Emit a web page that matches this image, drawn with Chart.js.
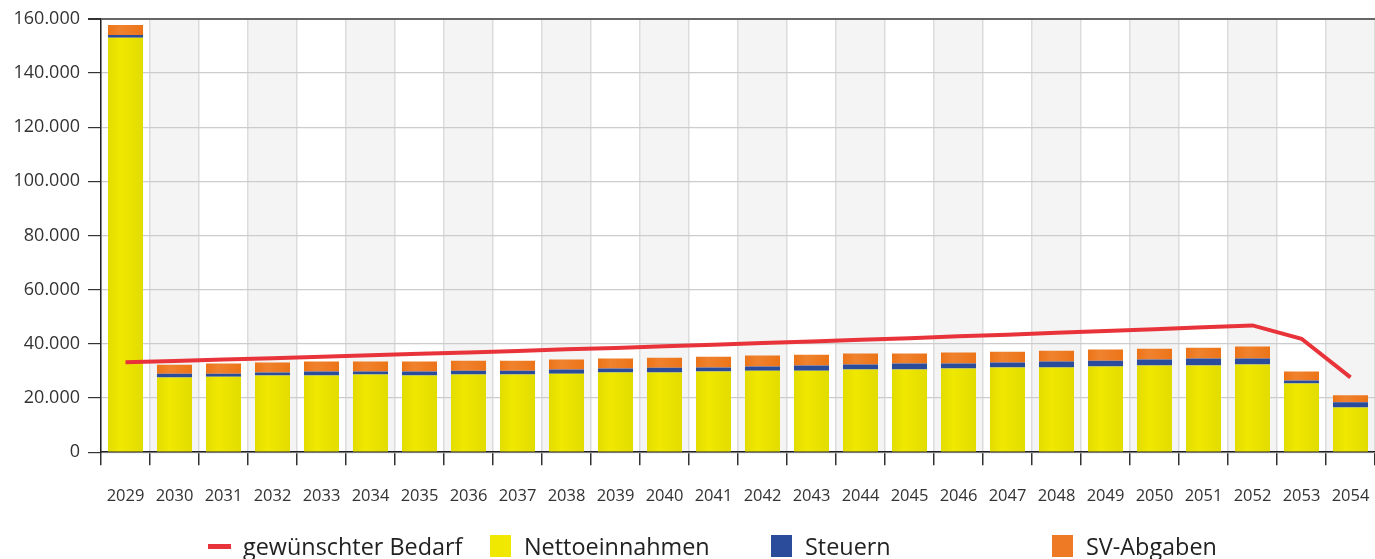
<!DOCTYPE html>
<html>
<head>
<meta charset="utf-8">
<script src="https://cdn.jsdelivr.net/npm/chart.js@4/dist/chart.umd.min.js"></script>
<style>
  html, body { margin:0; padding:0; background:#fff; }
  #wrap { position:relative; width:1375px; height:559px; }
  #c { position:absolute; left:0; top:0; }
  .lg { position:absolute; top:533px; height:26px; font-family:"Open Sans", sans-serif; font-size:23.4px; color:#222; line-height:26px; white-space:nowrap; }
  .sw { position:absolute; }
  .tx { position:absolute; top:0; }
</style>
</head>
<body>
<div id="wrap">
  <canvas id="c" width="1375" height="559"></canvas>
</div>
<script>
const years = ['2029','2030','2031','2032','2033','2034','2035','2036','2037','2038','2039','2040','2041','2042','2043','2044','2045','2046','2047','2048','2049','2050','2051','2052','2053','2054'];
const netto = [153.0,27.6,27.9,28.3,28.3,28.7,28.3,28.7,28.7,29.0,29.4,29.4,29.8,30.1,30.1,30.5,30.5,30.9,31.25,31.25,31.6,32.0,32.0,32.4,25.4,16.5].map(v=>v*1000);
const steuern = [1.0,1.4,1.1,1.1,1.5,1.1,1.5,1.4,1.4,1.5,1.5,1.8,1.45,1.5,1.9,1.9,2.2,1.8,1.85,2.2,2.2,2.2,2.6,2.2,1.1,1.9].map(v=>v*1000);
const sv = [3.7,3.3,3.7,3.7,3.7,3.7,3.7,3.7,3.7,3.7,3.7,3.7,4.0,4.1,4.0,4.0,3.7,4.1,4.0,4.0,4.1,4.0,4.0,4.4,3.3,2.6].map(v=>v*1000);
const bedarf = [33.2,33.7,34.2,34.7,35.2,35.8,36.3,36.8,37.4,38.0,38.5,39.1,39.7,40.3,40.9,41.5,42.1,42.8,43.4,44.1,44.7,45.4,46.1,46.8,41.9,27.6].map(v=>v*1000);
const yTicks = [0,20000,40000,60000,80000,100000,120000,140000,160000];
const legendItems = [
  {label:'gewünschter Bedarf', color:'#e8333a', kind:'line', x:208},
  {label:'Nettoeinnahmen', color:'#f0e800', kind:'box', x:490},
  {label:'Steuern', color:'#2b4c9b', kind:'box', x:771},
  {label:'SV-Abgaben', color:'#ef7a25', kind:'box', x:1052}
];

const BAR_PCT = 0.715;
function fmt(v){ return String(v).replace(/\B(?=(\d{3})+(?!\d))/g,'.'); }

function gradFill(edge, mid){
  return function(ctx){
    const chart = ctx.chart;
    if (!chart.chartArea || !chart.scales.x) return mid;
    const xs = chart.scales.x;
    const cx = xs.getPixelForValue(ctx.dataIndex);
    const cw = (xs.right - xs.left) / years.length;
    const w = cw * BAR_PCT;
    const g = chart.ctx.createLinearGradient(cx - w/2, 0, cx + w/2, 0);
    g.addColorStop(0, edge);
    g.addColorStop(0.35, mid);
    g.addColorStop(1, edge);
    return g;
  };
}

const bandPlugin = {
  id:'bands',
  beforeDraw(chart){
    const {ctx, chartArea} = chart;
    const xs = chart.scales.x;
    const cw = (xs.right - xs.left) / years.length;
    ctx.save();
    ctx.fillStyle = '#f4f4f4';
    for (let i=1;i<years.length;i+=2){
      ctx.fillRect(xs.left + i*cw, chartArea.top, cw, chartArea.bottom-chartArea.top);
    }
    ctx.restore();
  }
};

new Chart(document.getElementById('c'), {
  type:'bar',
  data:{
    labels: years,
    datasets:[
      {type:'line', label:'gewünschter Bedarf', data:bedarf, borderColor:'#e8333a', borderWidth:4, pointRadius:0, tension:0, fill:false, order:0, stack:'line'},
      {label:'Nettoeinnahmen', data:netto, backgroundColor:gradFill('#e2dc00','#f0e800'), order:1, stack:'s'},
      {label:'Steuern', data:steuern, backgroundColor:'#2b4c9b', order:1, stack:'s'},
      {label:'SV-Abgaben', data:sv, backgroundColor:gradFill('#ec7418','#f0822e'), order:1, stack:'s'}
    ]
  },
  options:{
    responsive:false,
    animation:false,
    layout:{ padding:{ top:7, right:0, bottom:32, left:0 } },
    plugins:{ legend:{display:false}, tooltip:{enabled:false} },
    datasets:{ bar:{ barPercentage:BAR_PCT, categoryPercentage:1 } },
    scales:{
      x:{
        stacked:true,
        offset:true,
        afterFit(scale){ scale.paddingLeft = 0; scale.paddingRight = 0; },
        grid:{ offset:true, color:'#dcdcdc', lineWidth:1.5, tickColor:'#333', tickLength:13, drawTicks:true },
        border:{ color:'#222', width:1.5 },
        ticks:{ font:{ family:'"Open Sans", sans-serif', size:16.5 }, color:'#333', padding:21, maxRotation:0, autoSkip:false }
      },
      y:{
        stacked:true,
        min:0, max:160000,
        afterBuildTicks(scale){ scale.ticks = yTicks.map(v=>({value:v})); },
        afterFit(scale){ scale.width = 101; },
        grid:{ color:(c)=> c.tick && c.tick.value===160000 ? '#666' : '#cccccc', lineWidth:(c)=> c.tick && c.tick.value===160000 ? 2 : 1.2, tickColor:'#333', tickLength:13 },
        border:{ color:'#222', width:1.5 },
        ticks:{ font:{ family:'"Open Sans", sans-serif', size:18 }, color:'#333', padding:8, callback:(v)=>fmt(v) }
      }
    }
  },
  plugins:[bandPlugin]
});

const wrap = document.getElementById('wrap');
legendItems.forEach(it=>{
  const d = document.createElement('div');
  d.className='lg';
  d.style.left = it.x + 'px';
  const sw = document.createElement('div');
  sw.className='sw';
  sw.style.background = it.color;
  if (it.kind==='line'){ sw.style.left='0px'; sw.style.top='11px'; sw.style.width='23px'; sw.style.height='5px'; }
  else { sw.style.left='0px'; sw.style.top='2px'; sw.style.width='21px'; sw.style.height='22px'; }
  const tx = document.createElement('span');
  tx.className='tx';
  tx.style.left = (it.kind==='line'?35:34)+'px';
  tx.textContent = it.label;
  d.appendChild(sw); d.appendChild(tx);
  wrap.appendChild(d);
});
</script>
</body>
</html>
